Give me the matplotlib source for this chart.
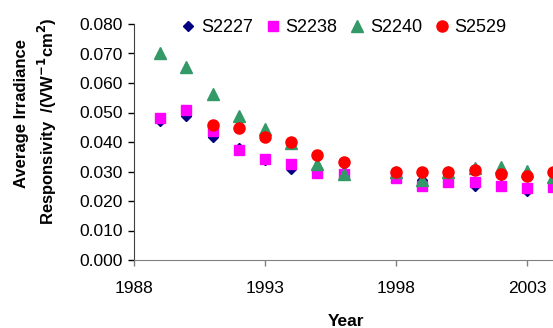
from matplotlib import pyplot as plt

plt.rcParams['font.family'] = ['Liberation Sans', 'DejaVu Sans']

years = [1989, 1990, 1991, 1992, 1993, 1994, 1995, 1996,
         1998, 1999, 2000, 2001, 2002, 2003, 2004]
s2227 = [0.0471, 0.0488, 0.0417, 0.0380, 0.0340, 0.0310, 0.0298, 0.0300,
         0.0282, 0.0270, 0.0265, 0.0252, 0.0255, 0.0235, 0.0250]
s2238 = [0.0481, 0.0510, 0.0437, 0.0373, 0.0342, 0.0327, 0.0295, 0.0290,
         0.0278, 0.0250, 0.0264, 0.0264, 0.0251, 0.0244, 0.0247]
s2240 = [0.0702, 0.0654, 0.0563, 0.0488, 0.0444, 0.0397, 0.0325, 0.0290,
         0.0298, 0.0271, 0.0298, 0.0312, 0.0316, 0.0303, 0.0280]
years_2529 = [1991, 1992, 1993, 1994, 1995, 1996,
              1998, 1999, 2000, 2001, 2002, 2003, 2004]
s2529 = [0.0457, 0.0448, 0.0417, 0.0400, 0.0357, 0.0332,
         0.0298, 0.0297, 0.0298, 0.0305, 0.0292, 0.0286, 0.0298]

fig = plt.figure(figsize=(5.53, 3.28), dpi=100)
# axes run past the right edge, as in the original crop
ax = fig.add_axes([134 / 553, 68 / 328, 20 * 26.2 / 553, 236 / 328])

ax.plot(years, s2227, 'D', color='#000080', markersize=5.5, linestyle='none', label='S2227', clip_on=False)
ax.plot(years, s2238, 's', color='#FF00FF', markersize=6.5, linestyle='none', label='S2238', clip_on=False)
ax.plot(years, s2240, '^', color='#339966', markersize=9, linestyle='none', label='S2240', clip_on=False)
ax.plot(years_2529, s2529, 'o', color='#FF0000', markersize=8, linestyle='none', label='S2529', clip_on=False)

ax.set_xlim(1988, 2008)
ax.set_ylim(0, 0.08)
ax.set_xticks([1988, 1993, 1998, 2003])
ax.set_yticks([i * 0.01 for i in range(9)])
ax.set_yticklabels(['%.3f' % (i * 0.01) for i in range(9)])
ax.tick_params(labelsize=12.5, direction='out', length=4, width=1, colors='black')
ax.tick_params(axis='y', pad=4)
ax.tick_params(axis='x', pad=11, color='#808080')

ax.spines['top'].set_visible(False)
ax.spines['right'].set_visible(False)
ax.spines['bottom'].set_color('#808080')
ax.spines['left'].set_color('#404040')

fig.text(346 / 553, 1 - 321 / 328, 'Year', fontsize=12.5, fontweight='bold', ha='center', va='center')
fig.text(22 / 553, 1 - 114 / 328, 'Average Irradiance', fontsize=12, fontweight='bold',
         rotation=90, ha='center', va='center')
fig.text(47 / 553, 1 - 121 / 328, 'Responsivity  /(VW$^{\\mathbf{-1}}$cm$^{\\mathbf{2}}$)', fontsize=12,
         fontweight='bold', rotation=90, ha='center', va='center')

fig.legend(loc='center', bbox_to_anchor=(344 / 553, 1 - 28 / 328), ncol=4, frameon=False,
           fontsize=13, handlelength=0.8, handletextpad=0.3, columnspacing=0.7, borderpad=0)

plt.savefig('out.png', dpi=100)
